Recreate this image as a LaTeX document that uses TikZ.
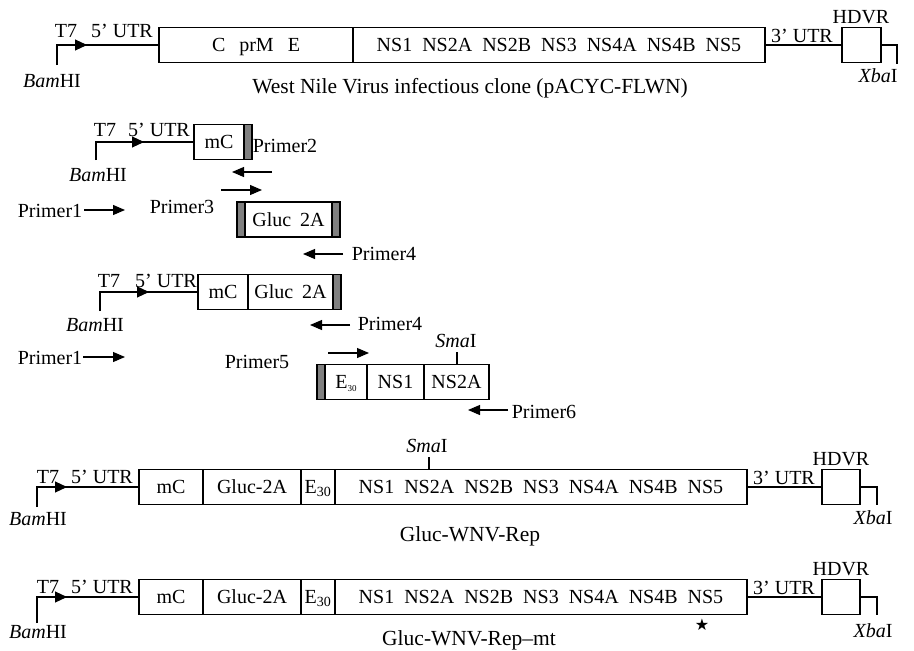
\documentclass[tikz,border=0pt]{standalone}
\usepackage{fontspec}
\setmainfont{Liberation Serif}
\newfontfamily\starfont{DejaVu Sans}
\usetikzlibrary{arrows.meta}
\usetikzlibrary{decorations.markings}
\usetikzlibrary{positioning}
\tikzset{seg/.style={rectangle,draw=black,minimum height=35pt,inner sep=0pt,outer sep=0pt,text height=13.5pt,text depth=0pt}}

\begin{document}
\begin{tikzpicture}[x=1pt,y=-1pt,line width=1.1pt,font=\fontsize{20}{23}\selectfont]
  % some styles
  \tikzset{
    greybar/.style={
      rectangle,
      minimum width=8pt,
      minimum height=35pt,
      inner sep=0pt,
      outer sep=0pt,
      fill=black!50,
      draw
    }
  }
  \tikzset{lbl/.style={anchor=base,inner sep=0pt}}
  \tikzset{title/.style={anchor=base,inner sep=0pt,font=\fontsize{21.5}{24}\selectfont}}
  \tikzset{primer/.style={-{Triangle[length=12pt,width=10pt]}}}
  \tikzset{promoter/.style={postaction={decorate},decoration={markings,mark=at position #1 with {\arrow{Triangle[length=12pt,width=11pt]}}}}}

\useasboundingbox (0,0) rectangle (914,651);

% full clone
\node[seg,anchor=west,minimum width=194pt] (cpm) at (159,45) {C\hspace{.7em}prM\hspace{.7em}E};
\node[seg,minimum width=412pt,right=0pt of cpm] (nsa) {NS1\enspace NS2A\enspace NS2B\enspace NS3\enspace NS4A\enspace NS4B\enspace NS5};
\node[seg,anchor=west,minimum width=39pt] (hdvra) at (842,45) {};
\coordinate (bama) at (57,65);
\coordinate (xbaa) at (897,64);
\draw[promoter=50pt] (bama) |- (cpm.west);
\draw (nsa.east) -- (hdvra.west);
\draw (hdvra.east) -| (xbaa);
\node[lbl] (t7a) at (66,37) {T7};
\node[lbl] (utr5a) at (122,37) {5’ UTR};
\node[lbl] (utr3a) at (802,42) {3’ UTR};
\node[lbl] (hdvrla) at (861,23) {HDVR};
\node[lbl] (bamla) at (52,87) {\textit{Bam}HI};
\node[lbl] (xbala) at (878,82) {\textit{Xba}I};
\node[title] (wnv) at (470,93) {West Nile Virus infectious clone (pACYC-FLWN)};

% first PCR
\node[seg,anchor=west,minimum width=50pt] (mcb) at (194,142) {mC};
\node[greybar,right=0pt of mcb] (gb1) {};
\coordinate (bamb) at (96,160);
\draw[promoter=66pt] (bamb) |- (mcb.west);
\node[lbl] (t7b) at (105,136) {T7};
\node[lbl] (utr5b) at (159,136) {5’ UTR};
\node[lbl] (bamlb) at (98,181) {\textit{Bam}HI};
\node[lbl] (pr2) at (285,152) {Primer2};
\coordinate (pr2s) at (272,172);
\coordinate (pr2e) at (232,172);
\draw[primer] (pr2s) -- (pr2e);
\coordinate (pr3s) at (221,190);
\coordinate (pr3e) at (262,190);
\draw[primer] (pr3s) -- (pr3e);
\node[lbl] (pr3) at (182,213) {Primer3};
\node[lbl] (pr1b) at (50,217) {Primer1};
\coordinate (pr1bs) at (84,210);
\coordinate (pr1be) at (125,210);
\draw[primer] (pr1bs) -- (pr1be);
\node[greybar,anchor=west] (gb2) at (237,219.5) {};
\node[seg,minimum width=87pt,right=0pt of gb2] (glucb) {Gluc\hspace{.45em}2A};
\node[greybar,right=0pt of glucb] (gb3) {};
\coordinate (pr4bs) at (343,254);
\coordinate (pr4be) at (303,254);
\draw[primer] (pr4bs) -- (pr4be);
\node[lbl] (pr4b) at (384,260) {Primer4};

% second PCR
\node[seg,anchor=west,minimum width=50pt] (mcc) at (198,292) {mC};
\node[seg,minimum width=85pt,right=0pt of mcc] (glucc) {Gluc\hspace{.45em}2A};
\node[greybar,right=0pt of glucc] (gb4) {};
\coordinate (bamc) at (100,311);
\draw[promoter=68pt] (bamc) |- (mcc.west);
\node[lbl] (t7c) at (109,287) {T7};
\node[lbl] (utr5c) at (166,287) {5’ UTR};
\node[lbl] (bamlc) at (95,331) {\textit{Bam}HI};
\coordinate (pr4cs) at (350,325);
\coordinate (pr4ce) at (310,325);
\draw[primer] (pr4cs) -- (pr4ce);
\node[lbl] (pr4c) at (390,330) {Primer4};
\node[lbl] (pr1c) at (50,364) {Primer1};
\coordinate (pr1cs) at (83,357);
\coordinate (pr1ce) at (125,357);
\draw[primer] (pr1cs) -- (pr1ce);
\node[lbl] (pr5) at (257,368) {Primer5};
\coordinate (pr5s) at (328,353);
\coordinate (pr5e) at (369,353);
\draw[primer] (pr5s) -- (pr5e);
\node[greybar,anchor=west] (gb5) at (317,382) {};
\node[seg,minimum width=42pt,right=0pt of gb5] (ec) {E\raisebox{-3pt}{\fontsize{9}{9}\selectfont 30}};
\node[seg,minimum width=57pt,right=0pt of ec] (ns1c) {NS1};
\node[seg,minimum width=65pt,right=0pt of ns1c] (ns2c) {NS2A};
\coordinate (smac) at (457,352);
\draw (smac) -- (smac |- ns2c.north);
\node[lbl] (smalc) at (456,347) {\textit{Sma}I};
\coordinate (pr6s) at (508,410);
\coordinate (pr6e) at (468,410);
\draw[primer] (pr6s) -- (pr6e);
\node[lbl] (pr6) at (544,418) {Primer6};

% replicons
\foreach \r/\y/\v/\b in {d/487/20/38,e/597/26/41} {
  \node[seg,anchor=west,minimum width=64pt] (mc\r) at (139,\y) {mC};
  \node[seg,minimum width=98pt,right=0pt of mc\r] (gluc\r) {Gluc-2A};
  \node[seg,minimum width=34pt,right=0pt of gluc\r] (e\r) {E\textsubscript{30}};
  \node[seg,minimum width=412pt,right=0pt of e\r] (ns\r) {NS1\enspace NS2A\enspace NS2B\enspace NS3\enspace NS4A\enspace NS4B\enspace NS5};
  \node[seg,anchor=west,minimum width=38pt] (hdvr\r) at (822,\y) {};
  \coordinate (bam\r) at (37,\y+\v);
  \coordinate (xba\r) at (877,\y+18);
  \pgfmathsetmacro\m{\v+30}
  \draw[promoter=\m pt] (bam\r) |- (mc\r.west);
  \draw (ns\r.east) -- (hdvr\r.west);
  \draw (hdvr\r.east) -| (xba\r);
  \node[lbl] (t7\r) at (48,\y-4) {T7};
  \node[lbl] (utr5\r) at (102,\y-4) {5’ UTR};
  \node[lbl] (utr3\r) at (784,\y-3) {3’ UTR};
  \node[lbl] (hdvrl\r) at (841,\y-22) {HDVR};
  \node[lbl] (baml\r) at (38,\y+\b) {\textit{Bam}HI};
  \node[lbl] (xbal\r) at (873,\y+\b-1) {\textit{Xba}I};
}
\coordinate (smad) at (429,457);
\draw (smad) -- (smad |- nsd.north);
\node[lbl] (smald) at (427,452) {\textit{Sma}I};
\node[title] (rep) at (470,541) {Gluc-WNV-Rep};
\node[title] (repmt) at (469,645) {Gluc-WNV-Rep–mt};
\node[inner sep=0pt,font={\fontsize{16}{16}\starfont}] (star) at (702,625) {★};

\end{tikzpicture}
\end{document}
